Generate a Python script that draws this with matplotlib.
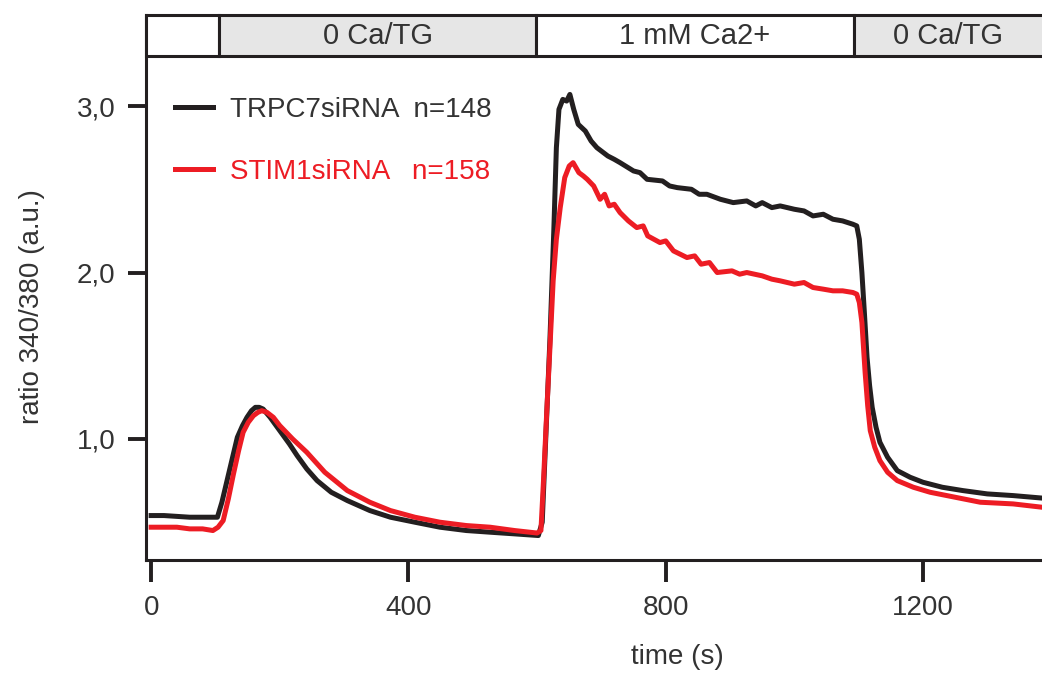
import matplotlib
matplotlib.use("Agg")
import matplotlib.pyplot as plt
from matplotlib.patches import Rectangle

plt.rcParams['font.family'] = ['Liberation Sans', 'DejaVu Sans']

# time (s) / ratio 340/380 for each trace
t_trpc7 = [0, 20, 40, 60, 80, 103, 110, 118, 126, 134, 142, 149, 156, 162, 168,
           174, 185, 200, 215, 227, 242, 258, 280, 305, 340, 372, 410, 449, 490,
           527, 565, 602, 608, 614, 620, 626, 630, 634, 640, 646, 651, 657, 664,
           675, 684, 693, 710, 720, 729, 750, 760, 771, 795, 806, 818, 840, 852,
           864, 885, 905, 926, 940, 950, 965, 978, 1000, 1015, 1029, 1045, 1060,
           1075, 1091, 1097, 1101, 1105, 1109, 1113, 1117, 1121, 1127, 1133,
           1145, 1160, 1180, 1200, 1230, 1262, 1300, 1340, 1385]
r_trpc7 = [0.54, 0.54, 0.535, 0.53, 0.53, 0.53, 0.62, 0.75, 0.88, 1.01, 1.08,
           1.13, 1.17, 1.19, 1.19, 1.18, 1.13, 1.05, 0.97, 0.90, 0.82, 0.75,
           0.68, 0.63, 0.57, 0.53, 0.50, 0.47, 0.45, 0.44, 0.43, 0.42, 0.50,
           1.05, 1.60, 2.25, 2.75, 2.98, 3.04, 3.03, 3.07, 2.98, 2.89, 2.85,
           2.79, 2.75, 2.70, 2.68, 2.66, 2.61, 2.60, 2.56, 2.55, 2.52, 2.51,
           2.50, 2.47, 2.47, 2.44, 2.42, 2.43, 2.40, 2.42, 2.39, 2.40, 2.38,
           2.37, 2.34, 2.35, 2.32, 2.31, 2.29, 2.28, 2.20, 2.00, 1.75, 1.49,
           1.32, 1.19, 1.07, 0.98, 0.89, 0.81, 0.77, 0.74, 0.71, 0.69, 0.67,
           0.66, 0.645]

t_stim1 = [0, 20, 40, 60, 80, 96, 104, 112, 120, 128, 136, 143, 151, 159, 166,
           172, 180, 190, 200, 220, 242, 270, 305, 340, 372, 410, 449, 490, 527,
           565, 600, 606, 610, 615, 620, 625, 630, 636, 643, 650, 656, 665, 672,
           678, 688, 698, 705, 712, 720, 729, 742, 755, 765, 772, 791, 800, 812,
           833, 845, 855, 868, 880, 903, 915, 926, 950, 965, 978, 1000, 1015,
           1029, 1045, 1060, 1075, 1091, 1097, 1101, 1105, 1110, 1114, 1118,
           1125, 1133, 1145, 1160, 1185, 1211, 1250, 1289, 1340, 1385]
r_stim1 = [0.47, 0.47, 0.47, 0.46, 0.46, 0.45, 0.47, 0.51, 0.64, 0.79, 0.93,
           1.04, 1.10, 1.14, 1.16, 1.17, 1.16, 1.13, 1.08, 1.00, 0.92, 0.80,
           0.69, 0.62, 0.57, 0.53, 0.50, 0.48, 0.47, 0.45, 0.435, 0.45, 0.75,
           1.16, 1.55, 1.95, 2.20, 2.39, 2.57, 2.64, 2.66, 2.60, 2.58, 2.56,
           2.52, 2.44, 2.47, 2.40, 2.41, 2.36, 2.31, 2.27, 2.28, 2.22, 2.18,
           2.19, 2.13, 2.09, 2.10, 2.05, 2.06, 2.00, 2.01, 1.99, 2.00, 1.98,
           1.96, 1.95, 1.93, 1.94, 1.91, 1.90, 1.89, 1.89, 1.88, 1.87, 1.82,
           1.70, 1.40, 1.20, 1.05, 0.95, 0.87, 0.80, 0.75, 0.71, 0.68, 0.65,
           0.62, 0.61, 0.59]

# perfusion protocol bar on top
phase_edges = [-8, 105, 599, 1092, 1400]
phase_names = ['', '0 Ca/TG', '1 mM Ca2+', '0 Ca/TG']
phase_colors = ['white', '#e6e6e6', 'white', '#e6e6e6']

black = '#231f20'
red = '#ed1c24'

fig = plt.figure(figsize=(10.42, 6.75), dpi=100)
ax = fig.add_axes([146 / 1042, 115 / 675, 1 - 146 / 1042, 545 / 675])

ax.plot(t_trpc7, r_trpc7, color=black, lw=3.6, label='TRPC7siRNA  n=148')
ax.plot(t_stim1, r_stim1, color=red, lw=3.6, label='STIM1siRNA   n=158')

ax.set_xlim(-8, 1385)
ax.set_ylim(0.273, 3.547)

band_lo, band_hi = 3.30, 3.547
for i, name in enumerate(phase_names):
    x0, x1 = phase_edges[i], phase_edges[i + 1]
    ax.add_patch(Rectangle((x0, band_lo), x1 - x0, band_hi - band_lo,
                           facecolor=phase_colors[i], edgecolor=black,
                           lw=2.2, clip_on=False, zorder=3))
    if name:
        xc = (x0 + min(x1, 1385)) / 2
        ax.text(xc, (band_lo + band_hi) / 2, name, ha='center', va='center',
                fontsize=21, color='#333333', zorder=4)

for s in ['top', 'right']:
    ax.spines[s].set_visible(False)
for s in ['left', 'bottom']:
    ax.spines[s].set_linewidth(2.2)
    ax.spines[s].set_color(black)

ax.set_xticks([0, 400, 800, 1200])
ax.set_yticks([1, 2, 3])
ax.set_yticklabels(['1,0', '2,0', '3,0'])
ax.tick_params(axis='x', direction='out', length=16, width=2.8, pad=9,
               labelsize=20, colors=black, labelcolor='#333333')
ax.tick_params(axis='y', direction='out', length=13, width=2.8, pad=9,
               labelsize=20, colors=black, labelcolor='#333333')

fig.text(677 / 1042, 1 - 657 / 675, 'time (s)', ha='center', va='center',
         fontsize=20, color='#333333')
fig.text(32 / 1042, 1 - 307 / 675, 'ratio 340/380 (a.u.)', ha='center',
         va='center', rotation=90, fontsize=20, color='#333333')

leg = ax.legend(loc='upper left', bbox_to_anchor=(175 / 1042, 1 - 97 / 675),
                bbox_transform=fig.transFigure, frameon=False, fontsize=20,
                handlelength=1.37, handletextpad=0.6, labelspacing=1.3,
                borderpad=0, borderaxespad=0)
leg.get_texts()[0].set_color('#333333')
leg.get_texts()[1].set_color(red)

fig.savefig('out.png', dpi=100)
